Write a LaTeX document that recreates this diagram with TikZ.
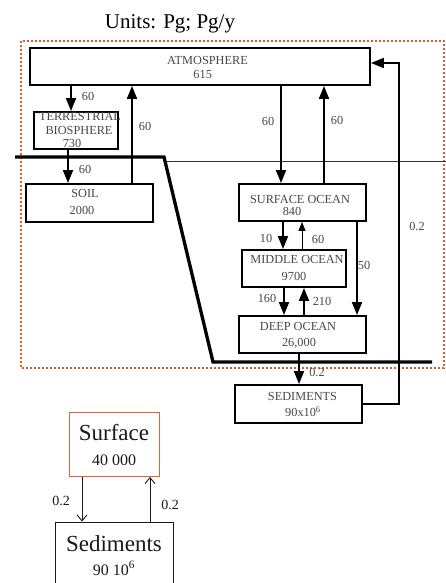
\documentclass[tikz,border=0pt]{standalone}
\usepackage{fontspec}
\setmainfont{Liberation Serif}
\usetikzlibrary{arrows.meta}
\definecolor{dotorange}{HTML}{E2592A}
\definecolor{boxorange}{HTML}{E0603C}
\definecolor{labgray}{HTML}{474747}
\definecolor{inkblack}{HTML}{1A1A1A}
\tikzset{
  box/.style={draw=black, line width=1.9pt, inner sep=0pt},
  bbox/.style={line width=0.9pt, inner sep=0pt},
  txt/.style={font=\fontsize{12.3}{14}\selectfont, text=labgray, anchor=base, inner sep=0pt},
  btxt/.style={font=\fontsize{14}{16}\selectfont, text=inkblack, anchor=base, inner sep=0pt},
  flow/.style={line width=1.9pt, -{Triangle[length=13pt,width=10pt]}},
  thinflow/.style={line width=1pt, -{Triangle[length=9pt,width=7pt]}},
  bflow/.style={line width=0.9pt, inkblack, -{Straight Barb[length=6pt,width=10pt]}},
  sepline/.style={line width=3.3pt, line join=miter},
  shelfline/.style={line width=1pt, black!80},
  dotframe/.style={draw=dotorange, line width=2.3pt, dash pattern=on 2.2pt off 1.8pt}
}
\begin{document}
\begin{tikzpicture}[x=1pt,y=-1pt]
\useasboundingbox (0,0) rectangle (446,583);
\clip (0,0) rectangle (446,583);
\fill[white] (0,0) rectangle (446,583);

% title
\node[font=\fontsize{21}{24}\selectfont, anchor=base, inner sep=0pt] (units) at (170,28.3) {Units: Pg; Pg/y};

% dotted frame
\draw[dotframe] (21,41) rectangle (444,368);

% separator lines
\draw[shelfline] (164,161) -- (446,161);
\draw[sepline] (15,157) -- (164,157) -- (213,362) -- (432,362);

% boxes
\node[box, minimum width=340pt, minimum height=37pt] (atm) at (200,66.5) {};
\node[box, minimum width=84pt, minimum height=37pt] (terr) at (76,130.5) {};
\node[box, minimum width=127pt, minimum height=38pt] (soil) at (89.5,203) {};
\node[box, minimum width=127pt, minimum height=37pt] (surf) at (302.5,202.5) {};
\node[box, minimum width=104pt, minimum height=37pt] (mid) at (294,268.5) {};
\node[box, minimum width=127pt, minimum height=37pt] (deep) at (302.5,334.5) {};
\node[box, minimum width=127pt, minimum height=38pt] (sed) at (298.5,404) {};

% box texts
\node[txt] (tatm) at (207.5,64.3) {ATMOSPHERE};
\node[txt] (tatmv) at (202.7,78.3) {615};
\node[txt] (tterr) at (80,121) {TERRESTRIAL};
\node[txt] (tbio) at (79,135) {BIOSPHERE};
\node[txt] (tterrv) at (72,147) {730};
\node[txt] (tsoil) at (85,197.7) {SOIL};
\node[txt] (tsoilv) at (82,214.3) {2000};
\node[txt] (tsurf) at (300,203.3) {SURFACE OCEAN};
\node[txt] (tsurfv) at (292,215.7) {840};
\node[txt] (tmid) at (297,263.7) {MIDDLE OCEAN};
\node[txt] (tmidv) at (294,280) {9700};
\node[txt] (tdeep) at (298,330.3) {DEEP OCEAN};
\node[txt] (tdeepv) at (299,346.3) {26,000};
\node[txt] (tsed) at (302.5,400.7) {SEDIMENTS};
\node[txt] (tsedv) at (303,416.7) {90x10\textsuperscript{6}};

% x positions of flows
\coordinate (xa) at (71,0);
\coordinate (xb) at (132,0);
\coordinate (xc) at (68,0);
\coordinate (xd) at (281,0);
\coordinate (xe) at (324,0);
\coordinate (xf) at (283,0);
\coordinate (xg) at (302,0);
\coordinate (xh) at (357,0);
\coordinate (xi) at (284,0);
\coordinate (xj) at (304,0);
\coordinate (xk) at (299,0);
\coordinate (xr) at (399,0);
\coordinate (yr) at (0,63);

% flows
\draw[flow] (atm.south -| xa) -- (terr.north -| xa);
\draw[flow] (soil.north -| xb) -- (atm.south -| xb);
\draw[flow] (terr.south -| xc) -- (soil.north -| xc);
\draw[flow] (atm.south -| xd) -- (surf.north -| xd);
\draw[flow] (surf.north -| xe) -- (atm.south -| xe);
\draw[flow] (surf.south -| xf) -- (mid.north -| xf);
\draw[thinflow] (mid.north -| xg) -- (surf.south -| xg);
\draw[flow] (surf.south -| xh) -- (deep.north -| xh);
\draw[flow] (mid.south -| xi) -- (deep.north -| xi);
\draw[flow] (deep.north -| xj) -- (mid.south -| xj);
\draw[flow] (deep.south -| xk) -- (sed.north -| xk);
\draw[flow] (sed.east) -- (sed.east -| xr) -- (xr |- yr) -- (atm.east |- yr);

% flow labels
\node[txt] (l1) at (88,101) {60};
\node[txt] (l2) at (145,131) {60};
\node[txt] (l3) at (85,173.3) {60};
\node[txt] (l4) at (268,125.7) {60};
\node[txt] (l5) at (337,124.3) {60};
\node[txt] (l6) at (266,242) {10};
\node[txt] (l7) at (318,243.7) {60};
\node[txt] (l8) at (364,269) {50};
\node[txt] (l9) at (267,302.7) {160};
\node[txt] (l10) at (322,305) {210};
\node[txt] (l11) at (317,376.7) {0.2};
\node[txt] (l12) at (417,230.7) {0.2};

% bottom simplified diagram
\node[bbox, draw=boxorange, minimum width=90pt, minimum height=64pt] (bsurf) at (114.5,444.5) {};
\node[bbox, draw=inkblack, minimum width=118pt, minimum height=70pt] (bsed) at (114.5,557) {};
\node[font=\fontsize{23}{26}\selectfont, text=inkblack, anchor=base, inner sep=0pt] (tbsurf) at (114,440.7) {Surface};
\node[font=\fontsize{16}{18}\selectfont, text=inkblack, anchor=base, inner sep=0pt] (tbsurfv) at (114,465) {40 000};
\node[font=\fontsize{23}{26}\selectfont, text=inkblack, anchor=base, inner sep=0pt] (tbsed) at (114,551) {Sediments};
\node[font=\fontsize{16}{18}\selectfont, text=inkblack, anchor=base, inner sep=0pt] (tbsedv) at (114,575) {90 10\textsuperscript{6}};

\coordinate (xl) at (82,0);
\coordinate (xm) at (150,0);
\draw[bflow] (bsurf.south -| xl) -- (bsed.north -| xl);
\draw[bflow] (bsed.north -| xm) -- (bsurf.south -| xm);
\node[btxt] (bl1) at (61,505) {0.2};
\node[btxt] (bl2) at (170,509.3) {0.2};
\end{tikzpicture}
\end{document}
